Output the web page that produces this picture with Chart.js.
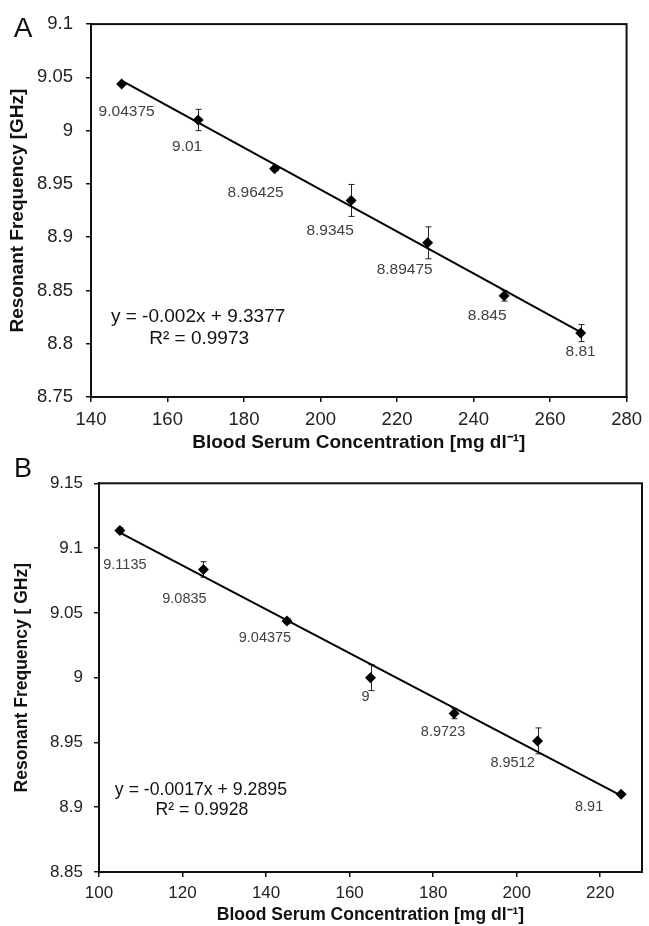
<!DOCTYPE html>
<html>
<head>
<meta charset="utf-8">
<script src="https://cdn.jsdelivr.net/npm/chart.js@4.4.1/dist/chart.umd.min.js"></script>
<style>
  html, body { margin: 0; padding: 0; background: #fff; }
  body { position: relative; width: 649px; height: 926px; overflow: hidden; }
  canvas { display: block; position: absolute; left: 0; }
  #chartA { top: 0; }
  #chartB { top: 450px; }
</style>
</head>
<body>
<canvas id="chartA" width="649" height="460"></canvas>
<canvas id="chartB" width="649" height="476"></canvas>
<script>
/* Panel A */
const concA = [148, 168, 188, 208, 228, 248, 268];
const freqA = [9.04375, 9.01, 8.96425, 8.9345, 8.89475, 8.845, 8.81];
const errA = [0.001, 0.01, 0.002, 0.015, 0.015, 0.005, 0.008];
const trendA = [9.047, 8.811];
const eqA = ['y = -0.002x + 9.3377', 'R² = 0.9973'];

/* Panel B */
const concB = [105, 125, 145, 165, 185, 205, 225];
const freqB = [9.1135, 9.0835, 9.04375, 9, 8.9723, 8.9512, 8.91];
const errB = [0.002, 0.006, 0.002, 0.01, 0.004, 0.01, 0.001];
const trendB = [9.112, 8.909];
const eqB = ['y = -0.0017x + 9.2895', 'R² = 0.9928'];

const FONT = "'Liberation Sans', Arial, sans-serif";

const extras = {
  id: 'extras',
  beforeDatasetsDraw(chart, args, o) {
    const { ctx, scales: { x, y } } = chart;
    ctx.save();
    ctx.strokeStyle = '#222';
    ctx.lineWidth = 1;
    o.xs.forEach((xv, i) => {
      const px = Math.round(x.getPixelForValue(xv)) + 0.5;
      const top = y.getPixelForValue(o.ys[i] + o.err[i]);
      const bot = y.getPixelForValue(o.ys[i] - o.err[i]);
      ctx.beginPath();
      ctx.moveTo(px, top); ctx.lineTo(px, bot);
      ctx.moveTo(px - 3, top); ctx.lineTo(px + 3, top);
      ctx.moveTo(px - 3, bot); ctx.lineTo(px + 3, bot);
      ctx.stroke();
    });
    ctx.restore();
  },
  afterDraw(chart, args, o) {
    const { ctx, chartArea: a, scales: { x, y } } = chart;
    ctx.save();
    ctx.strokeStyle = '#111';
    ctx.lineWidth = 2;
    ctx.strokeRect(a.left, a.top, a.right - a.left, a.bottom - a.top);

    ctx.textAlign = 'center';
    ctx.textBaseline = 'middle';
    ctx.fillStyle = '#404040';
    ctx.font = o.labelFont;
    o.xs.forEach((xv, i) => {
      const off = o.labelOffsets[i];
      ctx.fillText(String(o.ys[i]), x.getPixelForValue(xv) + off[0], y.getPixelForValue(o.ys[i]) + off[1]);
    });

    ctx.fillStyle = '#111';
    ctx.font = o.eqFont;
    const ex = x.getPixelForValue(o.eqAt[0]);
    const ey = y.getPixelForValue(o.eqAt[1]);
    o.eq.forEach((t, i) => ctx.fillText(t, ex + (i ? 1 : 0), ey + i * o.eqGap));

    ctx.font = o.letterFont;
    ctx.fillText(o.letter, o.letterPos[0], o.letterPos[1]);
    ctx.restore();
  }
};

function makeChart(id, p) {
  const trendData = [
    { x: p.xs[0], y: p.trend[0] },
    { x: p.xs[p.xs.length - 1], y: p.trend[1] }
  ];
  return new Chart(document.getElementById(id), {
    type: 'scatter',
    data: {
      datasets: [
        {
          data: p.xs.map((x, i) => ({ x, y: p.ys[i] })),
          pointStyle: 'rectRot',
          pointRadius: 5.5,
          backgroundColor: '#000',
          borderColor: '#000',
          borderWidth: 0,
          showLine: false
        },
        {
          type: 'line',
          data: trendData,
          borderColor: '#000',
          borderWidth: 2,
          pointRadius: 0,
          fill: false
        }
      ]
    },
    options: {
      responsive: false,
      animation: false,
      devicePixelRatio: 1,
      layout: { padding: p.padding },
      plugins: {
        legend: { display: false },
        tooltip: { enabled: false },
        extras: p.extras
      },
      scales: {
        x: {
          type: 'linear',
          min: p.xRange[0], max: p.xRange[1],
          afterFit(s) { s.height = p.xHeight; },
          grid: { drawOnChartArea: false, tickLength: 5, color: '#111', lineWidth: 1.5 },
          border: { color: '#111', width: 2 },
          ticks: { stepSize: 20, includeBounds: false, padding: p.xTickPad, color: '#222',
                   font: { family: FONT, size: p.tickSize }, maxRotation: 0 },
          title: { display: true, text: 'Blood Serum Concentration [mg dl⁻¹]', color: '#111',
                   font: { family: FONT, size: p.titleSize, weight: 'bold' },
                   padding: { top: 0, bottom: p.xTitlePad } }
        },
        y: {
          min: p.yRange[0], max: p.yRange[1],
          afterFit(s) { s.width = p.yWidth; },
          grid: { drawOnChartArea: false, tickLength: 5, color: '#111', lineWidth: 1.5 },
          border: { color: '#111', width: 2 },
          ticks: { stepSize: 0.05, padding: p.yTickPad, color: '#222',
                   font: { family: FONT, size: p.tickSize },
                   callback: v => String(parseFloat(v.toFixed(2))) },
          title: { display: true, text: p.yTitle, color: '#111',
                   font: { family: FONT, size: p.titleSize, weight: 'bold' },
                   padding: { top: p.yTitlePad, bottom: 0 } }
        }
      }
    },
    plugins: [extras]
  });
}

makeChart('chartA', {
  xs: concA, ys: freqA, trend: trendA,
  xRange: [140, 280], yRange: [8.75, 9.1],
  padding: { top: 23, right: 18, left: 0, bottom: 0 },
  yWidth: 91, xHeight: 63,
  tickSize: 18.5, titleSize: 19,
  xTickPad: 7, yTickPad: 13, xTitlePad: 5.6, yTitlePad: 6.6,
  yTitle: 'Resonant Frequency [GHz]',
  extras: {
    xs: concA, ys: freqA, err: errA,
    labelOffsets: [[5, 28], [-11, 27], [-19, 24], [-21, 30], [-23, 27], [-17, 20], [0, 19]],
    labelFont: '15.5px ' + FONT,
    eq: eqA, eqAt: [168, 8.825], eqGap: 22, eqFont: '19px ' + FONT,
    letter: 'A', letterPos: [23, 29], letterFont: '28px ' + FONT
  }
});

makeChart('chartB', {
  xs: concB, ys: freqB, trend: trendB,
  xRange: [100, 230], yRange: [8.85, 9.15],
  padding: { top: 33.3, right: 7, left: 0, bottom: 0 },
  yWidth: 99, xHeight: 54,
  tickSize: 17, titleSize: 17.5,
  xTickPad: 6, yTickPad: 11, xTitlePad: 0, yTitlePad: 11.5,
  yTitle: 'Resonant Frequency [ GHz]',
  extras: {
    xs: concB, ys: freqB, err: errB,
    labelOffsets: [[5, 34], [-19, 30], [-22, 17], [-5, 19], [-11, 18], [-25, 22], [-32, 13]],
    labelFont: '14.5px ' + FONT,
    eq: eqB, eqAt: [124.4, 8.913], eqGap: 20, eqFont: '17.7px ' + FONT,
    letter: 'B', letterPos: [23, 20], letterFont: '27px ' + FONT
  }
});
</script>
</body>
</html>
